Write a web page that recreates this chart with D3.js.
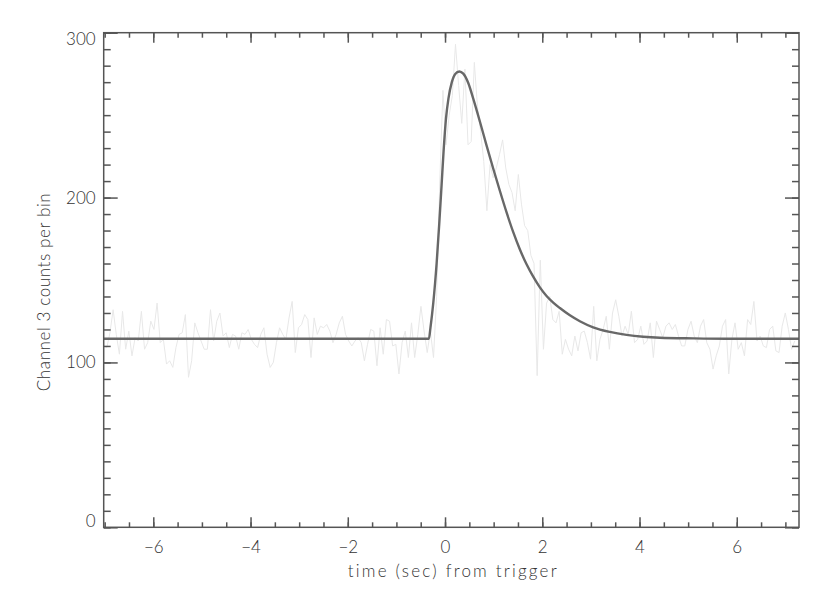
<!DOCTYPE html>
<html>
<head>
<meta charset="utf-8">
<script src="https://cdn.jsdelivr.net/npm/d3@7"></script>
<style>
  body { margin: 0; background: #fff; overflow: hidden; }
  svg { display: block; }
  text { font-family: Lato, "DejaVu Sans", sans-serif; font-weight: 300; fill: #333; }
</style>
</head>
<body>
<div id="chart"></div>
<script>
// light curve, 64ms-ish bins starting at the left edge
const binStart = -7.02;
const binWidth = 0.0646;
const countsPre = [110,109,118,132,117,105,131,108,119,104,115,113,131,108,112,125,120,136,112,114,
  99,101,97,109,117,118,129,91,101,124,118,113,108,108,132,113,125,130,116,118,
  109,117,116,108,118,117,120,114,111,109,117,121,105,97,
  100,112,121,117,114,127,137,106,121,123,129,126,103,127,117,122,121,123,119,112,
  117,124,128,117,113,110,113,115,112,101,111,120,119,98,121,105,126,125,110,111,
  93,112,119,103,124,103,117,134,119,106,119,103];
const countsBurst = [140,210,265,232,250,262,293,268,245,278,232,234,282,255,240,222,192,220,212,218,
  226,235,218,208,203,192,214,196,183,180,165,160,92,162,108,136,140,126,124,131,105,114];
const countsPost = [108,104,116,107,118,119,112,102,134,101,114,120,128,108,130,138,128,116,122,117,
  131,112,114,122,111,113,124,103,125,120,115,122,124,120,123,116,110,110,120,125,
  116,112,122,126,112,108,96,104,110,122,126,93,114,124,108,112,104,126,123,137,
  113,116,110,109,120,122,107,106,122,130,120,108,113];

// pulse fit
const fitTime = [-7.02,-0.331,-0.30,-0.242,-0.173,-0.119,-0.07,-0.03,0.02,0.07,0.14,0.21,0.293,
  0.375,0.478,0.580,0.718,0.855,0.992,1.129,1.266,1.403,1.540,1.677,1.814,1.951,2.088,2.225,2.362,
  2.568,2.773,3.047,3.39,3.733,4.075,4.418,5.104,5.789,7.28];
const fitValue = [114.4,114.4,121,136,160,184,208,228,248,260,270,275,276.5,
  275.2,269.5,260,246,231.5,217.5,204,191,179,168.5,159.5,152,145.5,140.3,136.3,133,
  128.6,125,121.3,118.5,116.7,115.6,115,114.6,114.4,114.4];

const xMajor = [-6,-4,-2,0,2,4,6];
const xMinor = d3.range(-7, 7.3, 0.5);
const yMajor = [0,100,200,300];
const yMinor = d3.range(0, 301, 10);

const width = 830, height = 593;
const margin = { top: 32.7, right: 31, bottom: 65.7, left: 103.7 };
const innerWidth = width - margin.left - margin.right;
const innerHeight = height - margin.top - margin.bottom;

const svg = d3.select("#chart").append("svg")
  .attr("width", width)
  .attr("height", height);

const g = svg.append("g").attr("transform", `translate(${margin.left},${margin.top})`);

const x = d3.scaleLinear().domain([-7.02, 7.28]).range([0, innerWidth]);
const y = d3.scaleLinear().domain([0, 300]).range([innerHeight, 0]);

const counts = countsPre.concat(countsBurst, countsPost);
const data = counts.map((c, i) => ({ t: binStart + i * binWidth, c }));
const fit = fitTime.map((t, i) => ({ t, v: fitValue[i] }));

g.append("clipPath").attr("id", "clip")
  .append("rect").attr("width", innerWidth).attr("height", innerHeight);

// data line
g.append("path")
  .datum(data)
  .attr("clip-path", "url(#clip)")
  .attr("fill", "none")
  .attr("stroke", "#e8e8e8")
  .attr("stroke-width", 1)
  .attr("d", d3.line().x(d => x(d.t)).y(d => y(d.c)));

// fitted pulse
g.append("path")
  .datum(fit)
  .attr("fill", "none")
  .attr("stroke", "#686868")
  .attr("stroke-width", 2.4)
  .attr("d", d3.line().x(d => x(d.t)).y(d => y(d.v)).curve(d3.curveMonotoneX));

const fmt = d => (d < 0 ? "\u2212" + Math.abs(d) : String(d));

function styleAxis(sel) {
  sel.select(".domain").remove();
  sel.selectAll("line").attr("stroke", "#555").attr("stroke-width", 1.5);
  sel.selectAll("text").attr("fill", "#333").style("font-size", "17px");
}
// ticks only, no labels
function bareAxis(sel) {
  styleAxis(sel);
  sel.selectAll("text").remove();
}

// bottom axis
g.append("g").attr("transform", `translate(0,${innerHeight})`)
  .call(d3.axisBottom(x).tickValues(xMinor).tickSize(-5))
  .call(bareAxis);
g.append("g").attr("transform", `translate(0,${innerHeight})`)
  .call(d3.axisBottom(x).tickValues(xMajor).tickSize(-10).tickPadding(14).tickFormat(fmt))
  .call(styleAxis);

// top axis
g.append("g")
  .call(d3.axisTop(x).tickValues(xMinor).tickSize(-5))
  .call(bareAxis);
g.append("g")
  .call(d3.axisTop(x).tickValues(xMajor).tickSize(-10))
  .call(bareAxis);

// left axis
g.append("g")
  .call(d3.axisLeft(y).tickValues(yMinor).tickSize(-7))
  .call(bareAxis);
const yAx = g.append("g")
  .call(d3.axisLeft(y).tickValues(yMajor).tickSize(-14).tickPadding(8))
  .call(styleAxis);
yAx.selectAll("text").attr("dy", d => d === 0 ? "-0.02em" : d === 300 ? "0.7em" : "0.32em");

// right axis
g.append("g").attr("transform", `translate(${innerWidth},0)`)
  .call(d3.axisRight(y).tickValues(yMinor).tickSize(-7))
  .call(bareAxis);
g.append("g").attr("transform", `translate(${innerWidth},0)`)
  .call(d3.axisRight(y).tickValues(yMajor).tickSize(-14))
  .call(bareAxis);

// frame
g.append("rect")
  .attr("width", innerWidth)
  .attr("height", innerHeight)
  .attr("fill", "none")
  .attr("stroke", "#555")
  .attr("stroke-width", 1.5);

// axis titles
g.append("text")
  .attr("x", innerWidth / 2 + 2)
  .attr("y", innerHeight + 50)
  .attr("text-anchor", "middle")
  .style("font-size", "17px")
  .style("letter-spacing", "2.2px")
  .text("time (sec) from trigger");

g.append("text")
  .attr("transform", "rotate(-90)")
  .attr("x", -(292 - margin.top))
  .attr("y", -54)
  .attr("text-anchor", "middle")
  .style("font-size", "17px")
  .style("letter-spacing", "0.6px")
  .text("Channel 3 counts per bin");
</script>
</body>
</html>
